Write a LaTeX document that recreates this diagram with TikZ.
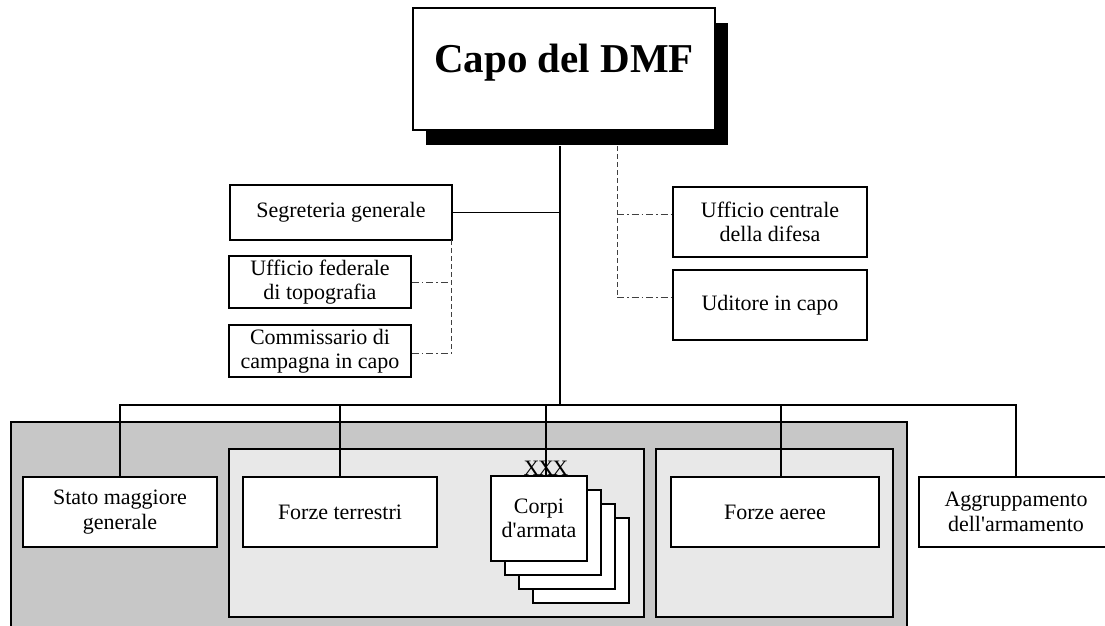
\documentclass[tikz,border=0pt]{standalone}
\usepackage{fontspec}
\setmainfont{Liberation Serif}
\usetikzlibrary{shadows}
\begin{document}
\begin{tikzpicture}[x=1pt,y=-1pt,
  box/.style={draw, line width=1.5pt, fill=white, align=center, inner sep=0pt,
    font=\fontsize{22}{24.5}\selectfont},
  solidline/.style={line width=1.5pt},
  dashline/.style={line width=0.9pt, dash pattern=on 5pt off 3pt, black!75},
  dashdot/.style={line width=0.9pt, dash pattern=on 7pt off 3pt on 1.5pt off 3pt, black!75},
  outerpanel/.style={draw, line width=1.5pt, fill=black!22},
  innerpanel/.style={draw, line width=1.5pt, fill=black!9},
  stackbox/.style={draw, line width=1.5pt, fill=white},
]
\clip (0,0) rectangle (1105,625);
\useasboundingbox (0,0) rectangle (1105,625);

% top box with shadow
\node[box, minimum width=302pt, minimum height=122pt, text height=26pt, text depth=20pt,
  drop shadow={shadow xshift=13pt, shadow yshift=-15pt, fill=black, opacity=1},
  font=\fontsize{41}{44}\selectfont\bfseries] (capo) at (564,69) {Capo del DMF};

% middle boxes
\node[box, minimum width=222pt, minimum height=55pt] (seg) at (341,212.5) {Segreteria generale};
\node[box, minimum width=182pt, minimum height=52pt] (uft) at (320,282) {Ufficio federale\\di topografia};
\node[box, minimum width=182pt, minimum height=52pt] (comm) at (320,351) {Commissario di\\campagna in capo};
\node[box, minimum width=194pt, minimum height=70pt] (ucd) at (770,222) {Ufficio centrale\\della difesa};
\node[box, minimum width=194pt, minimum height=70pt] (udi) at (770,305) {Uditore in capo};

% panels
\draw[outerpanel] (11,422) rectangle (907,660);
\draw[innerpanel] (229,449) rectangle (644,617);
\draw[innerpanel] (656,449) rectangle (893,617);

% bottom boxes
\node[box, minimum width=194pt, minimum height=70pt] (stato) at (120,512) {Stato maggiore\\generale};
\node[box, minimum width=194pt, minimum height=70pt] (ft) at (340,512) {Forze terrestri};
\draw[stackbox] (533,518) rectangle (629,603);
\draw[stackbox] (519,504) rectangle (615,589);
\draw[stackbox] (505,490) rectangle (601,575);
\node[box, minimum width=96pt, minimum height=85pt] (corpi) at (539,518.5) {Corpi\\d\textquotesingle armata};
\node[box, minimum width=208pt, minimum height=70pt] (fa) at (775,512) {Forze aeree};
\node[box, minimum width=194pt, minimum height=70pt] (agg) at (1016,512) {Aggruppamento\\dell\textquotesingle armamento};

% coordinates
\coordinate (mtop) at (560,146);
\coordinate (mbot) at (560,405);
\coordinate (xxxpos) at (546,468);
\coordinate (fadrop) at (781,477);
\coordinate (rtop) at (617,146);
\coordinate (ldash) at (451,240);

% solid connectors
\draw[solidline] (mtop) -- (mbot);
\draw[solidline] (seg.east) -- (seg.east -| mtop);
\draw[solidline] (stato.north) -- (stato.north |- mbot) -- (agg.north |- mbot) -- (agg.north);
\draw[solidline] (ft.north) -- (ft.north |- mbot);
\draw[solidline] (xxxpos |- mbot) -- (xxxpos |- corpi.north);
\draw[solidline] (fadrop) -- (fadrop |- mbot);
\node[font=\fontsize{22}{22}\selectfont, inner sep=0pt, anchor=base] (xxx) at (546,475.5) {X\kern-1.5pt X\kern-1.5pt X};

% dashed connectors
\draw[dashline] (ldash) -- (ldash |- 0,353);
\draw[dashdot] (uft.east) -- (uft.east -| ldash);
\draw[dashdot] (comm.east |- 0,353) -- (ldash |- 0,353);
\draw[dashline] (rtop) -- (rtop |- 0,297);
\draw[dashdot] (rtop |- 0,214) -- ([yshift=8pt]ucd.west);
\draw[dashdot] (rtop |- 0,297) -- ([yshift=8pt]udi.west);
\end{tikzpicture}
\end{document}
